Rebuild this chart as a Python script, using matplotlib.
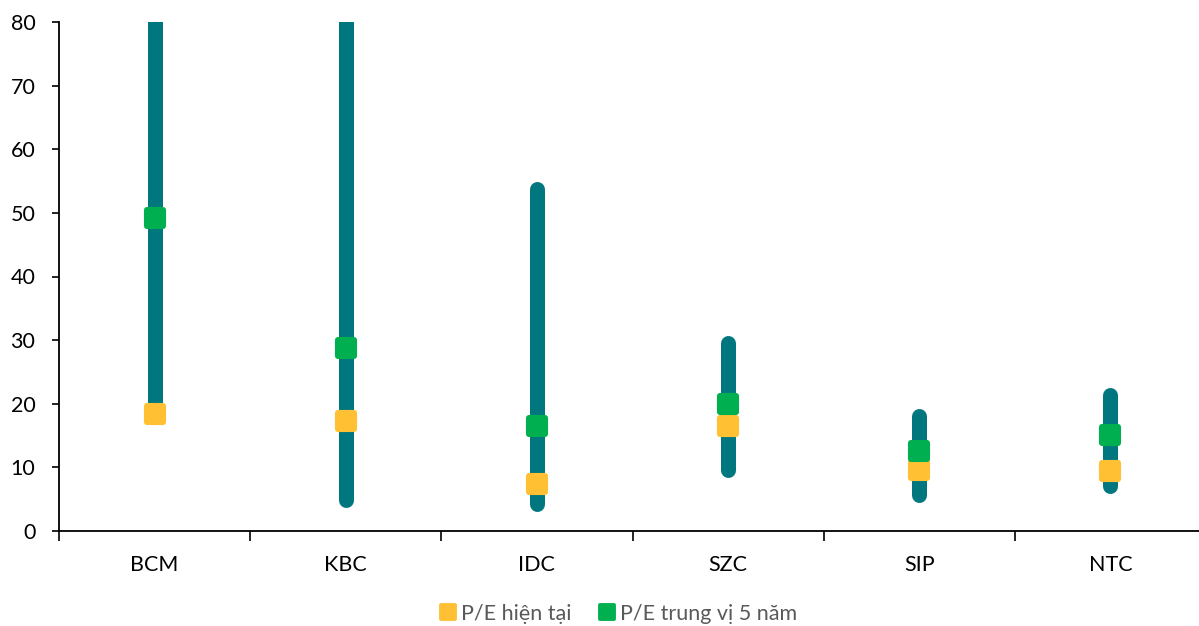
import matplotlib
matplotlib.use("Agg")
import matplotlib.pyplot as plt
from matplotlib.lines import Line2D
from matplotlib.markers import MarkerStyle
import numpy as np

categories = ["BCM", "KBC", "IDC", "SZC", "SIP", "NTC"]
pe_max = [95.0, 95.0, 53.7, 29.6, 18.0, 21.4]
pe_min = [18.4, 4.8, 4.2, 9.6, 5.7, 7.1]
pe_current = [18.4, 17.3, 7.4, 16.5, 9.6, 9.5]
pe_median5y = [49.2, 28.8, 16.5, 19.9, 12.6, 15.1]
yticks = [0, 10, 20, 30, 40, 50, 60, 70, 80]

TEAL = "#00777E"
YELLOW = "#FFC133"
GREEN = "#00B050"
FONT = "Lato"
FS = 15.5

fig = plt.figure(figsize=(11.99, 6.26), dpi=100)
ax = fig.add_axes([59 / 1199, 1 - 531 / 626, 1147 / 1199, (531 - 22) / 626])

x = np.arange(len(categories))
for xi, lo, hi in zip(x, pe_min, pe_max):
    ax.plot([xi, xi], [lo, hi], color=TEAL, lw=10.8, solid_capstyle="round", zorder=2)

sq = MarkerStyle("s", joinstyle="round")
mk = dict(marker=sq, markersize=11, markeredgewidth=4.4, linestyle="none", zorder=3)
ax.plot(x, pe_current, color=YELLOW, markerfacecolor=YELLOW, markeredgecolor=YELLOW, **mk)
ax.plot(x, pe_median5y, color=GREEN, markerfacecolor=GREEN, markeredgecolor=GREEN, **mk)

ax.set_xlim(-0.5, len(categories) - 0.5)
ax.set_ylim(0, 80)
ax.set_yticks(yticks)
ax.set_yticklabels([str(v) for v in yticks], fontsize=FS, family=FONT, color="#000000")
ax.set_xticks(x)
ax.set_xticklabels(categories, fontsize=FS, family=FONT, color="#000000")
ax.set_xticks(np.arange(-0.5, len(categories)), minor=True)
ax.tick_params(axis="x", which="major", length=0, pad=17)
ax.tick_params(axis="x", which="minor", length=7, width=1.2, color="black")
ax.tick_params(axis="y", which="major", length=5, width=1.2, pad=12)
for s in ["top", "right"]:
    ax.spines[s].set_visible(False)
for s in ["left", "bottom"]:
    ax.spines[s].set_linewidth(1.3)
    ax.spines[s].set_color("black")

handles = [
    Line2D([], [], marker=MarkerStyle("s", joinstyle="round"), markersize=9.5, markeredgewidth=2.8,
           color=YELLOW, linestyle="none"),
    Line2D([], [], marker=MarkerStyle("s", joinstyle="round"), markersize=9.5, markeredgewidth=2.8,
           color=GREEN, linestyle="none"),
]
leg = fig.legend(handles, ["P/E hiện tại", "P/E trung vị 5 năm"], loc="center",
                 bbox_to_anchor=(0.516, 1 - 614 / 626), ncol=2, frameon=False,
                 handlelength=0.7, handletextpad=0.25, columnspacing=1.3,
                 prop={"family": FONT, "size": FS})
for t in leg.get_texts():
    t.set_color("#595959")

fig.savefig("out.png", dpi=100)
